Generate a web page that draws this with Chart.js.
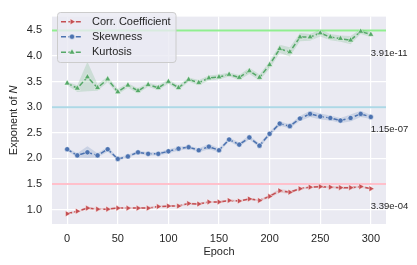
<!DOCTYPE html>
<html>
<head>
<meta charset="utf-8">
<script src="https://cdn.jsdelivr.net/npm/chart.js@4.4.0/dist/chart.umd.min.js"></script>
<style>
  html, body { margin: 0; padding: 0; background: #ffffff; }
  #wrap { width: 417px; height: 265px; position: relative; }
</style>
</head>
<body>
<div id="wrap"><canvas id="chart" width="417" height="265"></canvas></div>
<script>
// Epochs (x values)
const epochs = [0, 10, 20, 30, 40, 50, 60, 70, 80, 90, 100, 110, 120, 130, 140, 150,
                160, 170, 180, 190, 200, 210, 220, 230, 240, 250, 260, 270, 280, 290, 300];

// Kurtosis mean and band
const kurtosis = [3.47, 3.37, 3.59, 3.38, 3.55, 3.30, 3.43, 3.32, 3.44, 3.38, 3.50, 3.38, 3.54, 3.48, 3.57, 3.59,
                  3.64, 3.58, 3.71, 3.58, 3.83, 4.14, 4.08, 4.37, 4.37, 4.45, 4.37, 4.34, 4.31, 4.48, 4.42];
const kurtHigh = [3.50, 3.43, 3.89, 3.45, 3.60, 3.36, 3.47, 3.37, 3.48, 3.43, 3.54, 3.43, 3.58, 3.53, 3.62, 3.64,
                  3.68, 3.63, 3.77, 3.64, 3.90, 4.22, 4.17, 4.45, 4.43, 4.52, 4.43, 4.40, 4.39, 4.53, 4.47];
const kurtLow  = [3.43, 3.30, 3.31, 3.32, 3.49, 3.25, 3.38, 3.27, 3.40, 3.33, 3.46, 3.33, 3.50, 3.43, 3.52, 3.54,
                  3.60, 3.53, 3.65, 3.52, 3.75, 4.06, 3.99, 4.29, 4.30, 4.38, 4.31, 4.28, 4.23, 4.43, 4.37];

// Skewness mean and band
const skewness = [2.18, 2.06, 2.12, 2.06, 2.18, 1.99, 2.04, 2.12, 2.09, 2.09, 2.14, 2.19, 2.22, 2.16, 2.23, 2.16,
                  2.37, 2.27, 2.41, 2.25, 2.48, 2.68, 2.63, 2.78, 2.87, 2.82, 2.79, 2.74, 2.79, 2.87, 2.81];
const skewHigh = [2.21, 2.10, 2.24, 2.10, 2.23, 2.02, 2.07, 2.15, 2.12, 2.12, 2.18, 2.23, 2.25, 2.20, 2.28, 2.20,
                  2.41, 2.31, 2.45, 2.29, 2.52, 2.72, 2.67, 2.83, 2.93, 2.88, 2.84, 2.79, 2.86, 2.93, 2.85];
const skewLow  = [2.15, 2.02, 2.01, 2.02, 2.13, 1.96, 2.01, 2.09, 2.06, 2.06, 2.10, 2.15, 2.19, 2.12, 2.18, 2.12,
                  2.33, 2.23, 2.37, 2.21, 2.44, 2.64, 2.59, 2.73, 2.81, 2.76, 2.74, 2.69, 2.72, 2.81, 2.77];

// Correlation coefficient mean and band
const corr     = [0.92, 0.97, 1.03, 1.01, 1.01, 1.03, 1.03, 1.03, 1.03, 1.06, 1.07, 1.07, 1.12, 1.11, 1.15, 1.15,
                  1.18, 1.17, 1.21, 1.18, 1.26, 1.37, 1.34, 1.41, 1.44, 1.45, 1.44, 1.43, 1.43, 1.45, 1.41];
const corrHigh = [0.94, 0.99, 1.05, 1.03, 1.03, 1.05, 1.05, 1.05, 1.05, 1.08, 1.09, 1.09, 1.14, 1.13, 1.17, 1.17,
                  1.20, 1.19, 1.23, 1.20, 1.29, 1.41, 1.37, 1.43, 1.46, 1.47, 1.46, 1.45, 1.45, 1.47, 1.43];
const corrLow  = [0.90, 0.95, 1.01, 0.99, 0.99, 1.01, 1.01, 1.01, 1.01, 1.04, 1.05, 1.05, 1.10, 1.09, 1.13, 1.13,
                  1.16, 1.15, 1.19, 1.16, 1.23, 1.33, 1.31, 1.39, 1.42, 1.43, 1.42, 1.41, 1.41, 1.43, 1.39];

// Reference lines and annotations
const refLevels = [4.5, 3.0, 1.5];
const refColors = ['#90ee90', '#add8e6', '#ffc0cb'];
const annoText = ['3.91e-11', '1.15e-07', '3.39e-04'];
const annoY = [4.06, 2.56, 1.06];
const annoX = 300;

const xTicks = [0, 50, 100, 150, 200, 250, 300];
const yTicks = [1.0, 1.5, 2.0, 2.5, 3.0, 3.5, 4.0, 4.5];
const xMin = -15, xMax = 315, yMin = 0.72, yMax = 4.77;

const RED = '#c44e52', BLUE = '#4c72b0', GREEN = '#55a868';
const TXT = '#262626';
const FONT = '"Liberation Sans", Arial, sans-serif';

function pts(ys) { return epochs.map((x, i) => ({ x: x, y: ys[i] })); }

function seriesDs(label, ys, color, style, rot, r) {
  return {
    label: label, data: pts(ys), borderColor: color, backgroundColor: color,
    borderWidth: 1.5, borderDash: [5, 2.4], pointStyle: style, pointRotation: rot,
    pointRadius: r, pointBorderColor: '#ffffff', pointBorderWidth: 0.5,
    pointBackgroundColor: color, fill: false, order: 0, isMain: true
  };
}
function bandDs(ys, color, fill) {
  return {
    data: pts(ys), borderWidth: 0, pointRadius: 0, backgroundColor: color,
    fill: fill, order: 1
  };
}

const datasets = [
  seriesDs('Corr. Coefficient', corr, RED, 'triangle', 90, 3.5),
  seriesDs('Skewness', skewness, BLUE, 'circle', 0, 2.6),
  seriesDs('Kurtosis', kurtosis, GREEN, 'triangle', 0, 3.5),
  bandDs(corrHigh, 'rgba(196,78,82,0.2)', '+1'),
  bandDs(corrLow, 'rgba(196,78,82,0.2)', false),
  bandDs(skewHigh, 'rgba(76,114,176,0.2)', '+1'),
  bandDs(skewLow, 'rgba(76,114,176,0.2)', false),
  bandDs(kurtHigh, 'rgba(85,168,104,0.2)', '+1'),
  bandDs(kurtLow, 'rgba(85,168,104,0.2)', false)
];
refLevels.forEach((v, i) => {
  datasets.push({
    data: [{ x: xMin, y: v }, { x: xMax, y: v }], borderColor: refColors[i],
    borderWidth: 2, pointRadius: 0, fill: false, order: 2
  });
});

const overlay = {
  id: 'overlay',
  beforeDraw(chart) {
    const a = chart.chartArea, ctx = chart.ctx;
    ctx.save();
    ctx.fillStyle = '#eaeaf2';
    ctx.fillRect(a.left, a.top, a.right - a.left, a.bottom - a.top);
    ctx.restore();
  },
  afterDraw(chart) {
    const ctx = chart.ctx, a = chart.chartArea;
    const xs = chart.scales.x, ys = chart.scales.y;
    ctx.save();
    // annotations
    ctx.fillStyle = TXT;
    ctx.font = '9.5px ' + FONT;
    ctx.textAlign = 'left';
    ctx.textBaseline = 'middle';
    annoText.forEach((t, i) => ctx.fillText(t, xs.getPixelForValue(annoX), ys.getPixelForValue(annoY[i])));

    // axis titles
    ctx.font = '11px ' + FONT;
    ctx.textAlign = 'center';
    ctx.fillText('Epoch', (a.left + a.right) / 2, 252);
    ctx.translate(14, (a.top + a.bottom) / 2);
    ctx.rotate(-Math.PI / 2);
    const p1 = 'Exponent of ', p2 = 'N';
    const w1 = ctx.measureText(p1).width;
    ctx.font = 'italic 11px ' + FONT;
    const w2 = ctx.measureText(p2).width;
    ctx.textAlign = 'left';
    ctx.font = '11px ' + FONT;
    ctx.fillText(p1, -(w1 + w2) / 2, 0);
    ctx.font = 'italic 11px ' + FONT;
    ctx.fillText(p2, -(w1 + w2) / 2 + w1, 0);
    ctx.restore();

    // legend
    ctx.save();
    const bx = 57.5, by = 12.5, bw = 118.5, bh = 50;
    ctx.beginPath();
    ctx.roundRect(bx, by, bw, bh, 3);
    ctx.fillStyle = 'rgba(234,234,242,0.8)';
    ctx.fill();
    ctx.strokeStyle = '#cccccc';
    ctx.lineWidth = 1;
    ctx.stroke();
    const rows = [21.7, 36.7, 52.3];
    chart.data.datasets.filter(d => d.isMain).forEach((d, i) => {
      const y = rows[i];
      ctx.beginPath();
      ctx.setLineDash([5, 2.4]);
      ctx.strokeStyle = d.borderColor;
      ctx.lineWidth = 1.5;
      ctx.moveTo(61, y);
      ctx.lineTo(83, y);
      ctx.stroke();
      ctx.setLineDash([]);
      ctx.fillStyle = d.borderColor;
      ctx.strokeStyle = '#ffffff';
      ctx.lineWidth = 0.5;
      Chart.helpers.drawPoint(ctx, { pointStyle: d.pointStyle, rotation: d.pointRotation, radius: d.pointRadius, borderWidth: 0.5 }, 72, y);
      ctx.fillStyle = TXT;
      ctx.font = '11px ' + FONT;
      ctx.textAlign = 'left';
      ctx.textBaseline = 'middle';
      ctx.fillText(d.label, 92, y);
    });
    ctx.restore();
  }
};

new Chart(document.getElementById('chart'), {
  type: 'line',
  data: { datasets: datasets },
  plugins: [overlay],
  options: {
    responsive: false,
    animation: false,
    layout: { padding: { left: 0, right: 31, top: 8, bottom: 0 } },
    plugins: { legend: { display: false }, tooltip: { enabled: false } },
    elements: { line: { tension: 0 } },
    scales: {
      x: {
        type: 'linear', min: xMin, max: xMax,
        afterBuildTicks: s => { s.ticks = xTicks.map(v => ({ value: v })); },
        afterFit: s => { s.height = 41; },
        grid: { color: '#ffffff', lineWidth: 1.2, drawTicks: false },
        border: { display: false },
        ticks: { padding: 8, color: TXT, font: { family: FONT, size: 11 }, callback: v => String(v) }
      },
      y: {
        type: 'linear', min: yMin, max: yMax,
        afterBuildTicks: s => { s.ticks = yTicks.map(v => ({ value: v })); },
        afterFit: s => { s.width = 52; },
        grid: { color: '#ffffff', lineWidth: 1.2, drawTicks: false },
        border: { display: false },
        ticks: { padding: 10, color: TXT, font: { family: FONT, size: 11 }, callback: v => v.toFixed(1) }
      }
    }
  }
});
</script>
</body>
</html>
